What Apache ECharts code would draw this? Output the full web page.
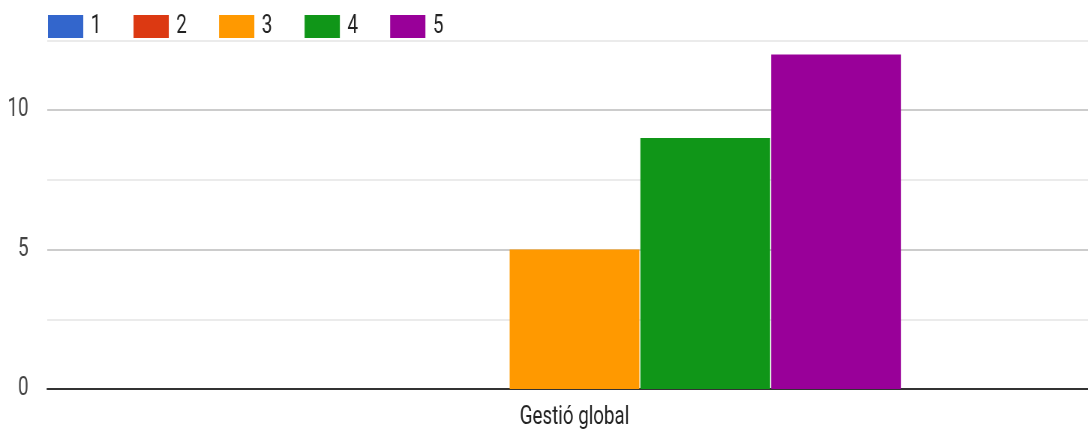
<!DOCTYPE html>
<html>
<head>
<meta charset="utf-8">
<script src="https://cdn.jsdelivr.net/npm/echarts@6/dist/echarts.min.js"></script>
<style>
  html, body { margin: 0; padding: 0; background: #fff; overflow: hidden; }
  #wrap { width: 1088px; height: 430px; overflow: hidden; }
  #chart { width: 1469px; height: 430px; transform: scaleX(0.75); transform-origin: 0 0; }
</style>
</head>
<body>
<div id="wrap"><div id="chart"></div></div>
<script>
const categories = ['Gestió global'];
const seriesNames = ['1', '2', '3', '4', '5'];
const values1 = [0];
const values2 = [0];
const values3 = [5];
const values4 = [9];
const values5 = [12];
const yTickLabels = ['0', '5', '10'];

const allValues = [values1, values2, values3, values4, values5];
const colors = ['#3366cc', '#dc3912', '#ff9900', '#109618', '#990099'];
const FONT = 'Roboto';

const chart = echarts.init(document.getElementById('chart'), null, { renderer: 'canvas' });
chart.setOption({
  animation: false,
  color: colors,
  textStyle: { fontFamily: FONT },
  legend: {
    left: 64,
    top: 14,
    padding: 0,
    itemWidth: 47,
    itemHeight: 23,
    itemGap: 43,
    icon: 'rect',
    textStyle: { fontFamily: FONT, fontSize: 25, color: '#222', padding: [0, 0, 0, 5] },
    data: seriesNames
  },
  grid: { left: 63, right: 0, top: 40.5, bottom: 40, containLabel: false },
  xAxis: {
    type: 'category',
    data: categories,
    axisLine: { show: true, lineStyle: { color: '#333', width: 2 } },
    axisTick: { show: false },
    axisLabel: { fontFamily: FONT, fontSize: 25, color: '#222', margin: 16 }
  },
  yAxis: {
    type: 'value',
    min: 0,
    max: 12.5,
    interval: 2.5,
    axisLine: { show: false },
    axisTick: { show: false },
    axisLabel: {
      fontFamily: FONT, fontSize: 25, color: '#444', margin: 25,
      formatter: function (v) {
        const s = String(v);
        return yTickLabels.indexOf(s) >= 0 ? s : '';
      }
    },
    splitLine: { show: true, lineStyle: { color: ['#cccccc', '#ebebeb'], width: 2 } }
  },
  series: seriesNames.map(function (name, i) {
    return {
      name: name,
      type: 'bar',
      data: allValues[i],
      barCategoryGap: '38.1%',
      barGap: '0.8%',
      itemStyle: { color: colors[i] }
    };
  })
});
</script>
</body>
</html>
